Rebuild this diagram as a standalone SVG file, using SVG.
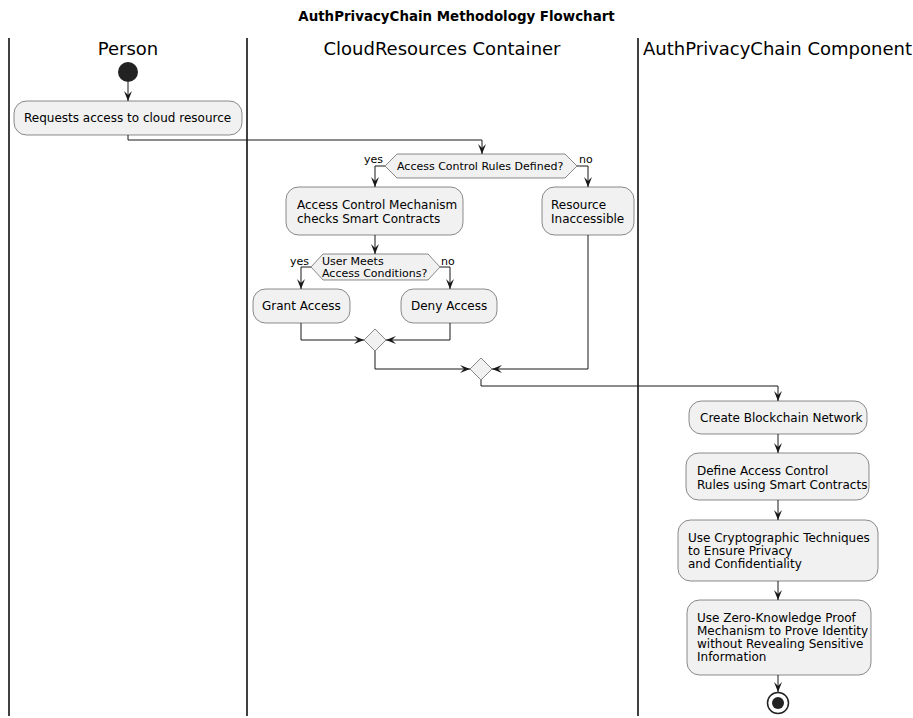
<svg xmlns="http://www.w3.org/2000/svg" width="913" height="718" viewBox="0 0 913 718">
  <style>
    text { font-family: "DejaVu Sans", "Liberation Sans", sans-serif; fill: #000; }
    .title { font-size: 13.4px; font-weight: bold; }
    .lane-title { font-size: 18px; }
    .lane { stroke: #000; stroke-width: 1.5; fill: none; }
    .act rect { fill: #F1F1F1; stroke: #181818; stroke-width: 0.5; }
    .act text { font-size: 12px; }
    .dec polygon { fill: #F1F1F1; stroke: #181818; stroke-width: 0.5; }
    .dec text { font-size: 11px; }
    .lbl { font-size: 11px; }
    .edge { fill: none; stroke: #181818; stroke-width: 1; marker-end: url(#arrow); }
  </style>
  <defs>
    <marker id="arrow" markerUnits="userSpaceOnUse" markerWidth="10" markerHeight="8" refX="10" refY="4" orient="auto">
      <path d="M0,0 L10,4 L0,8 L4,4 Z" fill="#181818"/>
    </marker>
  </defs>

  <rect width="913" height="718" fill="#FFFFFF"/>

  <text class="title" x="456.5" y="21" text-anchor="middle">AuthPrivacyChain Methodology Flowchart</text>

  <!-- swimlanes -->
  <g id="lanes">
    <line class="lane" x1="9" y1="38" x2="9" y2="716"/>
    <line class="lane" x1="247" y1="38" x2="247" y2="716"/>
    <line class="lane" x1="638" y1="38" x2="638" y2="716"/>
    <text class="lane-title" x="128" y="55" text-anchor="middle">Person</text>
    <text class="lane-title" x="442" y="55" text-anchor="middle">CloudResources Container</text>
    <text class="lane-title" x="643" y="55">AuthPrivacyChain Component</text>
  </g>

  <!-- connectors -->
  <g id="connectors">
    <polyline class="edge" points="128,82 128,101"/>
    <polyline class="edge" points="128,135 128,140 482,140 482,154"/>
    <polyline class="edge" points="385,166 375,166 375,187"/>
    <polyline class="edge" points="577,166 588,166 588,187"/>
    <polyline class="edge" points="375,235 375,254"/>
    <polyline class="edge" points="311,267 301,267 301,289"/>
    <polyline class="edge" points="440,267 450,267 450,289"/>
    <polyline class="edge" points="301,323 301,340 364,340"/>
    <polyline class="edge" points="450,323 450,340 386,340"/>
    <polyline class="edge" points="375,351 375,369 470,369"/>
    <polyline class="edge" points="588,235 588,369 492,369"/>
    <polyline class="edge" points="481,380 481,386 778,386 778,401"/>
    <polyline class="edge" points="778,434 778,453"/>
    <polyline class="edge" points="778,500 778,520"/>
    <polyline class="edge" points="778,581 778,600"/>
    <polyline class="edge" points="778,675 778,692"/>
    <text class="lbl" x="364" y="163">yes</text>
    <text class="lbl" x="579" y="163">no</text>
    <text class="lbl" x="290" y="265">yes</text>
    <text class="lbl" x="441" y="265">no</text>
  </g>

  <!-- nodes -->
  <g id="start">
    <circle cx="128" cy="72" r="10" fill="#222222"/>
  </g>

  <g id="request" class="act">
    <rect x="14" y="101" width="228" height="34" rx="12.5"/>
    <text x="24" y="122">Requests access to cloud resource</text>
  </g>

  <g id="rules-defined" class="dec">
    <polygon points="385,166 397,154 565,154 577,166 565,178 397,178"/>
    <text x="397" y="170">Access Control Rules Defined?</text>
  </g>

  <g id="check-contracts" class="act">
    <rect x="286" y="187" width="177" height="48" rx="12.5"/>
    <text x="297" y="209">Access Control Mechanism</text>
    <text x="297" y="223">checks Smart Contracts</text>
  </g>

  <g id="inaccessible" class="act">
    <rect x="542" y="187" width="92" height="48" rx="12.5"/>
    <text x="551" y="209">Resource</text>
    <text x="551" y="223">Inaccessible</text>
  </g>

  <g id="meets-conditions" class="dec">
    <polygon points="311,267 323,254 428,254 440,267 428,280 323,280"/>
    <text x="322" y="265">User Meets</text>
    <text x="322" y="277">Access Conditions?</text>
  </g>

  <g id="grant" class="act">
    <rect x="253" y="289" width="97" height="34" rx="12.5"/>
    <text x="262" y="310">Grant Access</text>
  </g>

  <g id="deny" class="act">
    <rect x="401" y="289" width="96" height="34" rx="12.5"/>
    <text x="411" y="310">Deny Access</text>
  </g>

  <g id="merge-inner" class="dec">
    <polygon points="375,329 386,340 375,351 364,340"/>
  </g>

  <g id="merge-outer" class="dec">
    <polygon points="481,358 492,369 481,380 470,369"/>
  </g>

  <g id="create-network" class="act">
    <rect x="689" y="401" width="178" height="33" rx="12.5"/>
    <text x="700" y="422">Create Blockchain Network</text>
  </g>

  <g id="define-rules" class="act">
    <rect x="686" y="453" width="183" height="47" rx="12.5"/>
    <text x="697" y="475">Define Access Control</text>
    <text x="697" y="489">Rules using Smart Contracts</text>
  </g>

  <g id="cryptography" class="act">
    <rect x="678" y="520" width="200" height="61" rx="12.5"/>
    <text x="688" y="542">Use Cryptographic Techniques</text>
    <text x="688" y="555">to Ensure Privacy</text>
    <text x="688" y="568">and Confidentiality</text>
  </g>

  <g id="zero-knowledge" class="act">
    <rect x="687" y="600" width="184" height="75" rx="12.5"/>
    <text x="697" y="622">Use Zero-Knowledge Proof</text>
    <text x="697" y="635">Mechanism to Prove Identity</text>
    <text x="697" y="648">without Revealing Sensitive</text>
    <text x="697" y="661">Information</text>
  </g>

  <g id="end">
    <circle cx="778" cy="703" r="10.5" fill="none" stroke="#222222" stroke-width="1.5"/>
    <circle cx="778" cy="703" r="6" fill="#222222"/>
  </g>
</svg>
